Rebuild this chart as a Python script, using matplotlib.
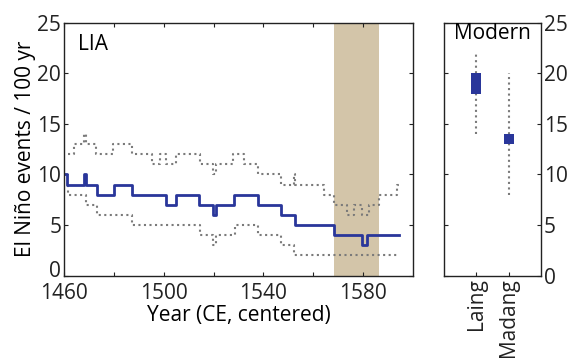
import numpy as np
import matplotlib
matplotlib.use("Agg")
import matplotlib.pyplot as plt
import matplotlib.transforms as mtransforms

plt.rcParams['font.family'] = ['Open Sans', 'DejaVu Sans']
plt.rcParams['font.size'] = 15

# LIA reconstruction: step edges (years) and values (events / 100 yr)
med_edges = [1460.5, 1461.1, 1468.2, 1468.7, 1473.1, 1480.0, 1487.2, 1501.1, 1505.0,
             1514.3, 1519.7, 1521.0, 1528.2, 1537.8, 1547.1, 1552.6, 1568.5, 1579.7,
             1581.6, 1594.4]
med_vals = [10, 9, 10, 9, 8, 9, 8, 7, 8, 7, 6, 7, 8, 7, 6, 5, 4, 3, 4]

hi_edges = [1461.6, 1464.2, 1468.2, 1468.8, 1473.0, 1479.8, 1487.2, 1495.2, 1498.4,
            1501.1, 1504.8, 1514.4, 1519.7, 1521.0, 1527.8, 1532.2, 1538.0, 1547.0,
            1552.1, 1552.8, 1564.4, 1568.4, 1573.7, 1576.4, 1579.7, 1582.4, 1586.4,
            1593.7, 1594.4]
hi_vals = [12, 13, 14, 13, 12, 13, 12, 11, 12, 11, 12, 11, 10, 11, 12, 11, 10, 9,
           10, 9, 8, 7, 6, 7, 6, 7, 8, 9]

lo_edges = [1461.4, 1461.8, 1468.8, 1473.2, 1487.2, 1514.4, 1519.9, 1521.1, 1528.4,
            1537.7, 1547.1, 1552.4, 1594.4]
lo_vals = [9, 8, 7, 6, 5, 4, 3, 4, 5, 4, 3, 2]

shade = (1568.4, 1586.2)

# modern records
sites = ['Laing', 'Madang']
box_lo = [18, 13]
box_hi = [20, 14]
rng_lo = [14, 8]
rng_hi = [22, 20]

blue = '#29369a'
gray = '#7a7a7a'

fig = plt.figure(figsize=(5.69, 3.62), dpi=100)
ax = fig.add_axes([0.1125, 0.2384, 0.6133, 0.699])
ax2 = fig.add_axes([0.7803, 0.2384, 0.1705, 0.699])

ax.axvspan(shade[0], shade[1], color='#d3c5a9', lw=0, zorder=0)
ax.step(hi_edges, hi_vals + [hi_vals[-1]], where='post', color=gray, ls=':', lw=1.5)
ax.step(lo_edges, lo_vals + [lo_vals[-1]], where='post', color=gray, ls=':', lw=1.5)
ax.step(med_edges, med_vals + [med_vals[-1]], where='post', color=blue, lw=2)

ax.set_xlim(1460, 1600)
ax.set_ylim(0, 25)
ax.set_xticks(np.arange(1460, 1600, 20))
ax.set_xticklabels(['1460', '', '1500', '', '1540', '', '1580'])
ax.set_yticks(np.arange(0, 26, 5))
ax.set_xlabel('Year (CE, centered)', labelpad=1)
ax.set_ylabel('El Niño events / 100 yr', labelpad=1)
ax.text(0.04, 0.955, 'LIA', transform=ax.transAxes, va='top', ha='left')

xs = np.arange(1, len(sites) + 1)
ax2.vlines(xs, rng_lo, rng_hi, colors=gray, linestyles=':', lw=1.5, zorder=2)
ax2.bar(xs, np.array(box_hi) - np.array(box_lo), bottom=box_lo, width=0.3,
        color=blue, zorder=3)
ax2.set_xlim(0, 3)
ax2.set_ylim(0, 25)
ax2.set_xticks(xs)
ax2.set_xticklabels(sites, rotation=90)
ax2.set_yticks(np.arange(0, 26, 5))
ax2.yaxis.tick_right()
ax2.text(0.5, 1.0, 'Modern', transform=ax2.transAxes, va='top', ha='center')

for a in (ax, ax2):
    a.tick_params(direction='in', length=3, width=0.8, top=True, right=True,
                  pad=2, colors='#222222', labelcolor='#222222')
    for s in a.spines.values():
        s.set_color('#222222')
        s.set_linewidth(1)
ax.tick_params(labelright=False)
ax.tick_params(axis='x', pad=5)
ax2.tick_params(labelleft=False, left=True, top=False, bottom=True)

# nudge the "0" label up a little, as in the original
lab0 = ax.yaxis.get_major_ticks()[0].label1
lab0.set_transform(lab0.get_transform() +
                   mtransforms.ScaledTranslation(0, 7 / 100, fig.dpi_scale_trans))

fig.savefig('out.png', dpi=100)
